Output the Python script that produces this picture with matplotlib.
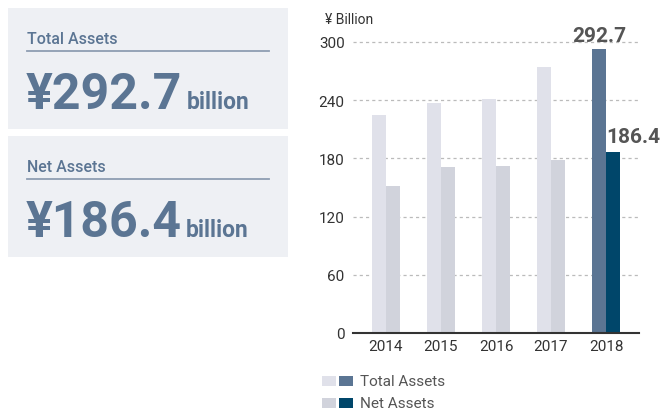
import matplotlib
matplotlib.use("Agg")
import matplotlib.pyplot as plt
from matplotlib.patches import Rectangle
import numpy as np

plt.rcParams['font.family'] = ['Roboto', 'DejaVu Sans']

# data
years = ['2014', '2015', '2016', '2017', '2018']
total_assets = [225, 237, 241, 274, 292.7]
net_assets = [152, 171, 172, 178, 186.4]
yticks = [0, 60, 120, 180, 240, 300]

light_total = '#e0e1ea'
light_net = '#d1d3dc'
dark_total = '#5b7593'
dark_net = '#00466a'
panel_bg = '#eef0f4'
panel_text = '#5b7593'

W, H = 662, 410
fig = plt.figure(figsize=(W / 100, H / 100), dpi=100)
renderer = fig.canvas.get_renderer()


def fx(px):
    return px / W


def fy(py):
    return 1 - py / H


# left summary panels
panels = [
    ('Total Assets', '¥292.7', 9, 130),
    ('Net Assets', '¥186.4', 137, 258),
]
for title, big, top, bottom in panels:
    fig.patches.append(Rectangle((fx(8), fy(bottom)), fx(288) - fx(8), fy(top) - fy(bottom),
                                 transform=fig.transFigure, facecolor=panel_bg,
                                 edgecolor='none', zorder=0))
    fig.text(fx(27), fy(top + 35), title, fontsize=11.5, fontweight='medium',
             color=panel_text, va='baseline', ha='left')
    fig.add_artist(plt.Line2D([fx(27), fx(269)], [fy(top + 43), fy(top + 43)],
                              transform=fig.transFigure, color='#8e9db2', lw=1.3))
    t = fig.text(fx(26), fy(top + 100), big, fontsize=36, fontweight='bold',
                 color=panel_text, va='baseline', ha='left')
    end = t.get_window_extent(renderer).x1
    fig.text(fx(end + 4), fy(top + 100), 'billion', fontsize=16.5, fontweight='bold',
             color=panel_text, va='baseline', ha='left')

# bar chart
px_per_unit = (334 - 43) / 300
ytop = 310
ax = fig.add_axes([fx(353), fy(334), fx(639) - fx(353), (ytop * px_per_unit) / H])

x = np.arange(len(years))
w = 0.255
tot_colors = [light_total] * (len(years) - 1) + [dark_total]
net_colors = [light_net] * (len(years) - 1) + [dark_net]
ax.bar(x - w / 2, total_assets, width=w, color=tot_colors, zorder=2)
ax.bar(x + w / 2, net_assets, width=w, color=net_colors, zorder=2)

ax.set_xlim(-0.6, 4.6)
ax.set_ylim(0, ytop)
ax.set_yticks(yticks)
ax.set_xticks(x)
ax.set_xticklabels(years)
ax.tick_params(axis='both', length=0, labelsize=11, colors='#333333')
ax.tick_params(axis='y', pad=6)
ax.tick_params(axis='x', pad=4)
for s in ['top', 'right', 'left']:
    ax.spines[s].set_visible(False)
ax.spines['bottom'].set_color('#333333')
ax.spines['bottom'].set_linewidth(1.5)
ax.spines['bottom'].set_zorder(3)
ax.yaxis.grid(True, color='#bbbbbb', linestyle=(0, (2.5, 2.5)), linewidth=0.9, zorder=1)
ax.set_axisbelow(True)

ax.text(x[-1] - w / 2, total_assets[-1] + 4, f'{total_assets[-1]:.1f}', ha='center',
        va='bottom', fontsize=15, fontweight='bold', color='#555555', clip_on=False)
ax.text(x[-1] + w / 2 - 0.13, net_assets[-1] + 6, f'{net_assets[-1]:.1f}', ha='left',
        va='bottom', fontsize=15, fontweight='bold', color='#555555', clip_on=False)

fig.text(fx(325), fy(20), '¥ Billion', fontsize=10, color='#333333', va='center', ha='left')

# legend
legend_rows = [('Total Assets', light_total, dark_total, 377),
               ('Net Assets', light_net, dark_net, 399)]
for label, c1, c2, top in legend_rows:
    fig.patches.append(Rectangle((fx(322), fy(top + 10)), fx(14), 10 / H,
                                 transform=fig.transFigure, facecolor=c1, edgecolor='none'))
    fig.patches.append(Rectangle((fx(339), fy(top + 10)), fx(14), 10 / H,
                                 transform=fig.transFigure, facecolor=c2, edgecolor='none'))
    fig.text(fx(360), fy(top + 5), label, fontsize=11, color='#555555', va='center', ha='left')

fig.savefig('out.png', dpi=100)
